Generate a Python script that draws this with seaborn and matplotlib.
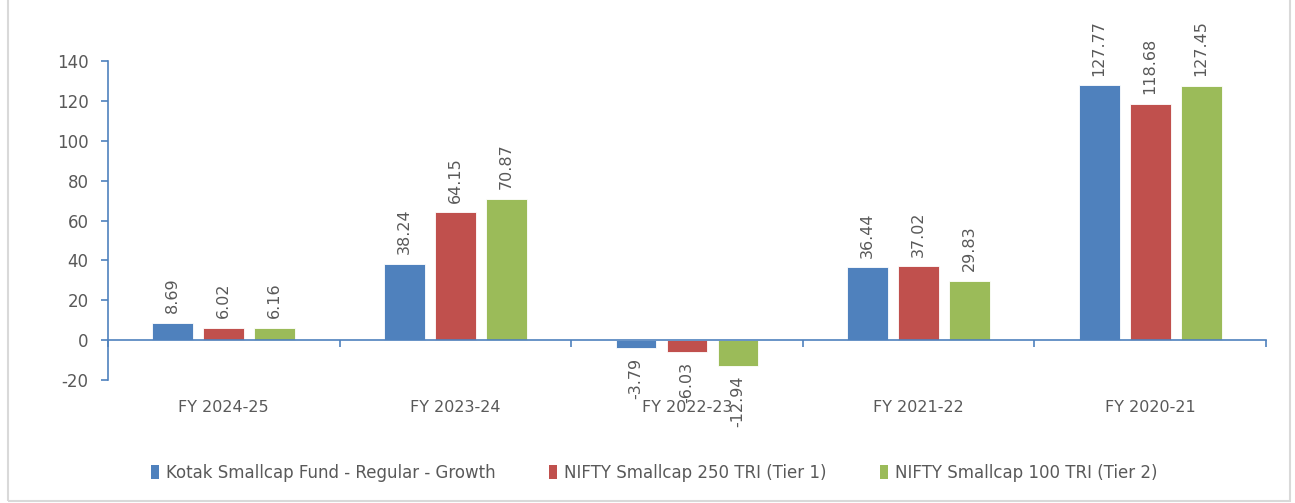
import pandas as pd
import matplotlib.pyplot as plt
import seaborn as sns
from matplotlib.patches import Rectangle, Patch
from matplotlib.ticker import FixedLocator

# data
years = ["FY 2024-25", "FY 2023-24", "FY 2022-23", "FY 2021-22", "FY 2020-21"]
series = ["Kotak Smallcap Fund - Regular - Growth",
          "NIFTY Smallcap 250 TRI (Tier 1)",
          "NIFTY Smallcap 100 TRI (Tier 2)"]
kotak = [8.69, 38.24, -3.79, 36.44, 127.77]
tier1 = [6.02, 64.15, -6.03, 37.02, 118.68]
tier2 = [6.16, 70.87, -12.94, 29.83, 127.45]
colors = ["#4F81BD", "#C0504D", "#9BBB59"]

rows = []
for name, vals in zip(series, [kotak, tier1, tier2]):
    for y, v in zip(years, vals):
        rows.append({"year": y, "series": name, "value": v})
df = pd.DataFrame(rows)

sns.set_style("white")
plt.rcParams["font.family"] = ["DejaVu Sans"]
plt.rcParams["axes.unicode_minus"] = False
txt = "#595959"
axc = "#4F81BD"

fig = plt.figure(figsize=(12.95, 5.03), dpi=100)
ax = fig.add_axes([0.0834, 0.2445, 0.8942, 0.6342])

sns.barplot(data=df, x="year", y="value", hue="series", order=years,
            hue_order=series, palette=colors, saturation=1, width=0.66,
            gap=0.2, edgecolor="white", linewidth=0.6, ax=ax, legend=False)

for cont in ax.containers:
    ax.bar_label(cont, fmt="%.2f", rotation=90, padding=7,
                 fontsize=11.5, color=txt)

ax.set_xlim(-0.5, 4.5)
ax.set_ylim(-20, 140)
ax.set_yticks(range(-20, 141, 20))
ax.set_xlabel("")
ax.set_ylabel("")

for s in ["top", "right"]:
    ax.spines[s].set_visible(False)
ax.spines["left"].set_color(axc)
ax.spines["bottom"].set_color(axc)
ax.spines["left"].set_linewidth(1.2)
ax.spines["bottom"].set_linewidth(1.2)
ax.spines["bottom"].set_position(("data", 0))

ax.tick_params(axis="y", left=True, direction="out", length=5, width=1.2,
               color=axc, labelsize=12, labelcolor=txt, pad=9)
ax.tick_params(axis="x", which="major", bottom=True, length=0,
               labelsize=11.5, labelcolor=txt, pad=43)
ax.xaxis.set_minor_locator(FixedLocator([-0.5, 0.5, 1.5, 2.5, 3.5, 4.5]))
ax.tick_params(axis="x", which="minor", bottom=True, direction="out",
               length=5, width=1.2, color=axc)

handles = [Patch(facecolor=c, edgecolor="none") for c in colors]
fig.legend(handles, series, loc="center", bbox_to_anchor=(0.505, 0.06),
           ncol=3, frameon=False, fontsize=12, handlelength=0.5,
           handleheight=0.9, handletextpad=0.4, columnspacing=3.2,
           labelcolor=txt)

fig.patches.append(Rectangle((0.006, 0.004), 0.99, 1.1, transform=fig.transFigure,
                             fill=False, edgecolor="#D9D9D9", linewidth=1.5))

plt.savefig("out.png", dpi=100)
